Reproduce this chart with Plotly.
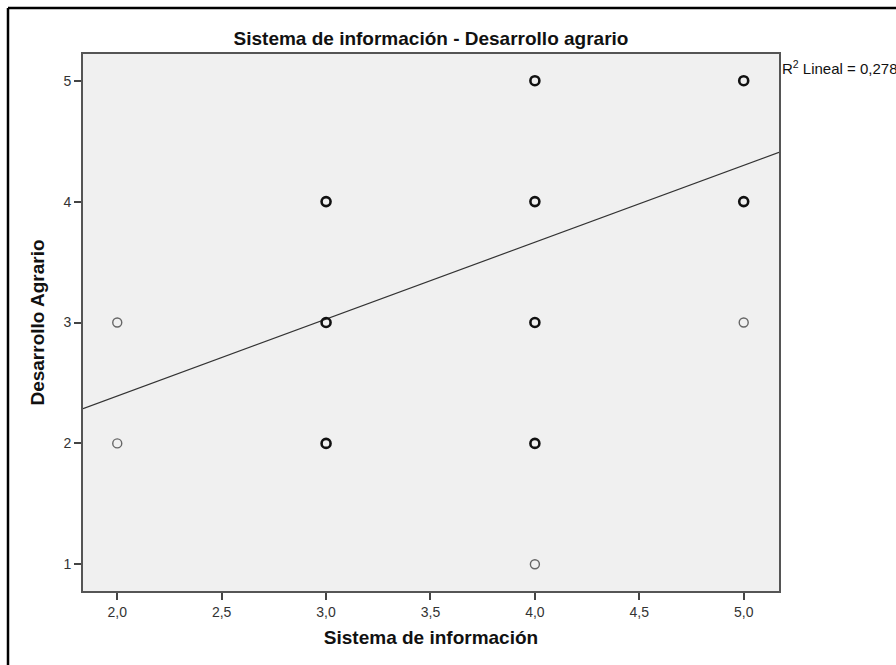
import plotly.graph_objects as go

# Observations (Sistema de información, Desarrollo Agrario); overlap marks stacked cases
sistema = [2, 2, 3, 3, 3, 4, 4, 4, 4, 4, 5, 5, 5]
desarrollo = [3, 2, 4, 3, 2, 5, 4, 3, 2, 1, 5, 4, 3]
overlap = [False, False, True, True, True, True, True, True, True, False, True, True, False]

# Linear fit
intercept = 1.12
slope = 0.636
r2_text = "0,278"

x_range = [1.836, 5.169]
y_range = [0.779, 5.221]
x_ticks = [2.0, 2.5, 3.0, 3.5, 4.0, 4.5, 5.0]
y_ticks = [1, 2, 3, 4, 5]

W, H = 896, 665
L, R, T, B = 83, 779, 54, 591

FONT = "Liberation Sans, Arial, sans-serif"

fig = go.Figure()

fit_x = x_range
fit_y = [intercept + slope * v for v in fit_x]
fig.add_trace(go.Scatter(
    x=fit_x, y=fit_y, mode="lines",
    line=dict(color="#333333", width=1.2),
    hoverinfo="skip", showlegend=False,
))

for flag in (False, True):
    xs = [x for x, o in zip(sistema, overlap) if o == flag]
    ys = [y for y, o in zip(desarrollo, overlap) if o == flag]
    fig.add_trace(go.Scatter(
        x=xs, y=ys, mode="markers",
        marker=dict(
            symbol="circle-open", size=9,
            color="#111111" if flag else "#666666",
            line=dict(width=2.6 if flag else 1.4,
                      color="#111111" if flag else "#666666"),
        ),
        showlegend=False,
    ))

axis_common = dict(
    showgrid=False, zeroline=False, showline=True, mirror=True,
    linecolor="#555555", linewidth=2,
    ticks="outside", ticklen=7, tickwidth=1.5, tickcolor="#444444",
    tickfont=dict(family=FONT, size=14, color="#333333"),
)

fig.update_layout(
    width=W, height=H,
    margin=dict(l=L, r=W - R, t=T, b=H - B),
    paper_bgcolor="white",
    plot_bgcolor="#F0F0F0",
    separators=",.",
    title=dict(
        text="<b>Sistema de información - Desarrollo agrario</b>",
        x=(L + R) / 2 / W, xanchor="center",
        y=1 - 38 / H, yanchor="middle",
        font=dict(family=FONT, size=19, color="#111111"),
    ),
    xaxis=dict(
        range=x_range, tickvals=x_ticks, tickformat=".1f",
        title=dict(text="<b>Sistema de información</b>",
                   font=dict(family=FONT, size=19, color="#111111"), standoff=12),
        **axis_common,
    ),
    yaxis=dict(
        range=y_range, tickvals=y_ticks, tickformat="d",
        title=dict(text="<b>Desarrollo Agrario</b>",
                   font=dict(family=FONT, size=19, color="#111111"), standoff=14),
        **axis_common,
    ),
    annotations=[dict(
        text="R<sup>2</sup> Lineal = " + r2_text,
        xref="paper", x=(780 - L) / (R - L), xanchor="left",
        yref="y", y=5.11, yanchor="middle",
        showarrow=False,
        font=dict(family=FONT, size=15, color="#111111"),
    )],
    shapes=[
        # outer frame (left and top edges)
        dict(type="line", xref="paper", yref="paper",
             x0=(8 - L) / (R - L), x1=(8 - L) / (R - L),
             y0=(B - 8) / (B - T), y1=(B - H - 5) / (B - T),
             line=dict(color="black", width=2.5)),
        dict(type="line", xref="paper", yref="paper",
             x0=(8 - L) / (R - L), x1=(W + 5 - L) / (R - L),
             y0=(B - 8) / (B - T), y1=(B - 8) / (B - T),
             line=dict(color="black", width=2.5)),
    ],
)

fig.write_html("out.html")
